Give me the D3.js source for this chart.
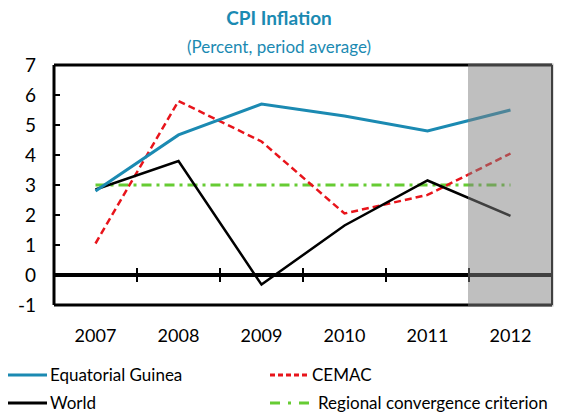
<!DOCTYPE html>
<html>
<head>
<meta charset="utf-8">
<script src="https://cdn.jsdelivr.net/npm/d3@7"></script>
<style>
  body { margin: 0; background: #fff; }
  svg { font-family: Lato, "Open Sans", sans-serif; }
</style>
</head>
<body>
<div id="chart"></div>
<script>
const years = ["2007", "2008", "2009", "2010", "2011", "2012"];
const equatorialGuinea = [2.8, 4.67, 5.7, 5.3, 4.8, 5.5];
const cemac = [1.05, 5.8, 4.45, 2.05, 2.67, 4.05];
const world = [2.85, 3.8, -0.32, 1.65, 3.15, 1.97];
const convergence = [3, 3, 3, 3, 3, 3];
const yTicks = [-1, 0, 1, 2, 3, 4, 5, 6, 7];
const shadedYears = ["2012"];

const width = 565, height = 414;
const margin = { top: 65, right: 13, bottom: 109, left: 54 };

const svg = d3.select("#chart").append("svg")
    .attr("width", width)
    .attr("height", height);

const x = d3.scaleBand()
    .domain(years)
    .range([margin.left, width - margin.right]);

const y = d3.scaleLinear()
    .domain([-1, 7])
    .range([height - margin.bottom, margin.top]);

// titles
svg.append("text")
    .attr("x", 279).attr("y", 25)
    .attr("text-anchor", "middle")
    .attr("font-size", 19).attr("font-weight", "bold")
    .attr("fill", "#1b8ab2")
    .text("CPI Inflation");
svg.append("text")
    .attr("x", 279).attr("y", 53)
    .attr("text-anchor", "middle")
    .attr("font-size", 17)
    .attr("fill", "#1b8ab2")
    .text("(Percent, period average)");

// frame
const frame = svg.append("g");
frame.append("line")
    .attr("x1", margin.left).attr("x2", width - margin.right)
    .attr("y1", y(7)).attr("y2", y(7))
    .attr("stroke", "#000").attr("stroke-width", 3);
frame.append("line")
    .attr("x1", margin.left).attr("x2", width - margin.right)
    .attr("y1", y(-1)).attr("y2", y(-1))
    .attr("stroke", "#000").attr("stroke-width", 3);
frame.append("line")
    .attr("x1", margin.left).attr("x2", margin.left)
    .attr("y1", y(7)).attr("y2", y(-1))
    .attr("stroke", "#000").attr("stroke-width", 3);
frame.append("line")
    .attr("x1", width - margin.right).attr("x2", width - margin.right)
    .attr("y1", y(7)).attr("y2", y(-1))
    .attr("stroke", "#000").attr("stroke-width", 2);

// y axis ticks and labels
svg.append("g").selectAll("line")
    .data(yTicks)
    .enter().append("line")
    .attr("x1", margin.left).attr("x2", margin.left + 6)
    .attr("y1", d => y(d)).attr("y2", d => y(d))
    .attr("stroke", "#000").attr("stroke-width", 2);
svg.append("g").selectAll("text")
    .data(yTicks)
    .enter().append("text")
    .attr("x", 36)
    .attr("y", d => y(d) + 7)
    .attr("text-anchor", "end")
    .attr("font-size", 19)
    .attr("fill", "#000")
    .text(d => d);

// zero line with category ticks
svg.append("line")
    .attr("x1", margin.left).attr("x2", width - margin.right)
    .attr("y1", y(0)).attr("y2", y(0))
    .attr("stroke", "#000").attr("stroke-width", 4);
svg.append("g").selectAll("line")
    .data(years.slice(1))
    .enter().append("line")
    .attr("x1", d => x(d)).attr("x2", d => x(d))
    .attr("y1", y(0) - 7).attr("y2", y(0) + 7)
    .attr("stroke", "#000").attr("stroke-width", 2);

// x labels
svg.append("g").selectAll("text")
    .data(years)
    .enter().append("text")
    .attr("x", d => x(d) + x.bandwidth() / 2)
    .attr("y", 342)
    .attr("text-anchor", "middle")
    .attr("font-size", 18)
    .attr("fill", "#000")
    .text(d => d);

// series
const series = [
    { name: "Regional convergence criterion", values: convergence, color: "#66cc33", width: 3, dash: "10,5,3,5" },
    { name: "CEMAC", values: cemac, color: "#e8141b", width: 2.5, dash: "7,4" },
    { name: "World", values: world, color: "#000", width: 2.5, dash: null },
    { name: "Equatorial Guinea", values: equatorialGuinea, color: "#1b8ab2", width: 3, dash: null }
];

const line = d3.line()
    .x((d, i) => x(years[i]) + x.bandwidth() / 2)
    .y(d => y(d));

svg.append("g").selectAll("path")
    .data(series)
    .enter().append("path")
    .attr("d", d => line(d.values))
    .attr("fill", "none")
    .attr("stroke", d => d.color)
    .attr("stroke-width", d => d.width)
    .attr("stroke-dasharray", d => d.dash);

// projection shading
svg.append("g").selectAll("rect")
    .data(shadedYears)
    .enter().append("rect")
    .attr("x", d => x(d) - 1)
    .attr("y", y(7) - 1.5)
    .attr("width", x.bandwidth() + 2.5)
    .attr("height", y(-1) - y(7) + 3)
    .attr("fill", "#7f7f7f")
    .attr("opacity", 0.5);

// legend
const legendItems = [
    { s: series[3], lx: 8, ly: 375 },
    { s: series[1], lx: 270, ly: 375 },
    { s: series[2], lx: 8, ly: 403 },
    { s: series[0], lx: 270, ly: 403 }
];
const legend = svg.append("g").selectAll("g")
    .data(legendItems)
    .enter().append("g")
    .attr("transform", d => `translate(${d.lx},${d.ly})`);
legend.append("line")
    .attr("x1", 0).attr("x2", 39)
    .attr("y1", 0).attr("y2", 0)
    .attr("stroke", d => d.s.color)
    .attr("stroke-width", 3)
    .attr("stroke-dasharray", d => d.s.dash ? (d.s.name === "CEMAC" ? "5,3" : "10,8,3,8") : null);
legend.append("text")
    .attr("x", d => d.s.name === "Regional convergence criterion" ? 48 : 42)
    .attr("y", 6)
    .attr("font-size", 17)
    .attr("fill", "#000")
    .text(d => d.s.name);
</script>
</body>
</html>
